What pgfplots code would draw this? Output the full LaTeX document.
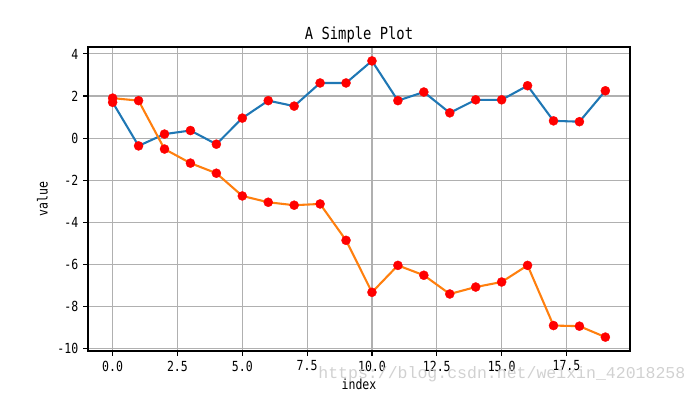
\documentclass[border=0pt]{standalone}
\usepackage{pgfplots}
\pgfplotsset{compat=1.18}
\usepackage{fontspec}
\setmainfont[FakeStretch=0.83]{DejaVu Sans Mono}
\newfontfamily\wmfont{Liberation Mono}
\definecolor{mblue}{HTML}{1F77B4}
\definecolor{morange}{HTML}{FF7F0E}
\definecolor{mgrid}{HTML}{B0B0B0}
\begin{document}
\begin{tikzpicture}
\useasboundingbox (0,0) rectangle (504pt,283.68pt);
\begin{axis}[
  at={(63.36pt,30.96pt)}, anchor=south west,
  scale only axis, width=390.24pt, height=218.88pt,
  xmin=-0.95, xmax=19.95, ymin=-10.12, ymax=4.33,
  xtick={0,2.5,5,7.5,10,12.5,15,17.5},
  ytick={-10,-8,-6,-4,-2,0,2,4},
  xticklabel style={/pgf/number format/.cd,fixed,fixed zerofill,precision=1},
  /pgf/number format/assume math mode=true,
  tick label style={font=\fontsize{10}{12}\selectfont},
  label style={font=\fontsize{10}{12}\selectfont},
  xlabel style={yshift=1.5pt},
  title style={font=\fontsize{12}{14}\selectfont, yshift=-6.3pt},
  title={A Simple Plot},
  xlabel={index}, ylabel={value},
  grid=major, major grid style={mgrid, line width=0.8pt},
  axis line style={black, line width=0.8pt},
  tick style={black, line width=0.8pt},
  tick align=outside, major tick length=3.5pt,
  xtick pos=bottom, ytick pos=left,
  clip=false,
]
\addplot[mblue, line width=1.5pt, mark=*, mark size=3.3pt, mark options={fill=red, draw=red, line width=0.2pt}] coordinates {
(0,1.70) (1,-0.37) (2,0.19) (3,0.36) (4,-0.29) (5,0.95) (6,1.78) (7,1.52) (8,2.62) (9,2.62)
(10,3.67) (11,1.78) (12,2.19) (13,1.20) (14,1.82) (15,1.82) (16,2.49) (17,0.82) (18,0.78) (19,2.25)
};
\addplot[morange, line width=1.5pt, mark=*, mark size=3.3pt, mark options={fill=red, draw=red, line width=0.2pt}] coordinates {
(0,1.90) (1,1.78) (2,-0.52) (3,-1.19) (4,-1.67) (5,-2.75) (6,-3.05) (7,-3.19) (8,-3.13) (9,-4.86)
(10,-7.33) (11,-6.05) (12,-6.52) (13,-7.41) (14,-7.08) (15,-6.84) (16,-6.05) (17,-8.91) (18,-8.94) (19,-9.46)
};
\end{axis}
\node[anchor=east, text=black!18, font=\wmfont\fontsize{11.9}{14}\selectfont] at (497pt,14.5pt) {https://blog.csdn.net/weixin\_42018258};
\end{tikzpicture}
\end{document}
